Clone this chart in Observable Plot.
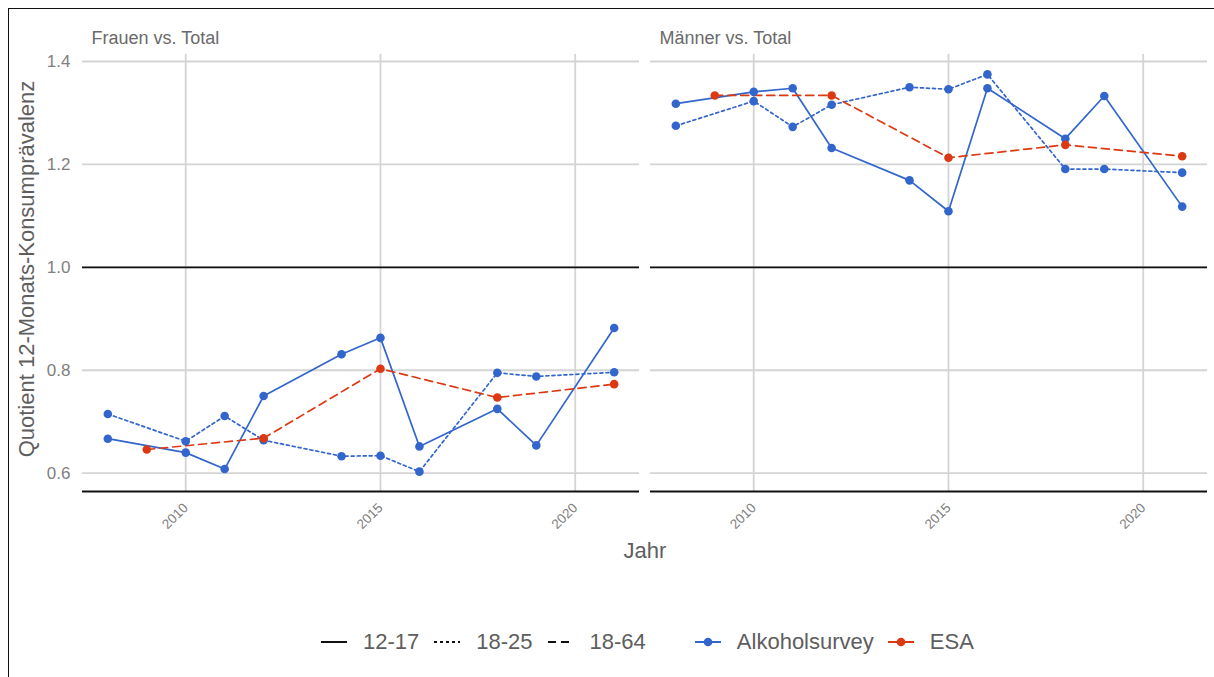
<!DOCTYPE html>
<html>
<head>
<meta charset="utf-8">
<script src="https://cdn.jsdelivr.net/npm/d3@7"></script>
<script src="https://cdn.jsdelivr.net/npm/@observablehq/plot@0.6"></script>
<style>
  html, body { margin: 0; padding: 0; background: #fff; }
  body { font-family: "Liberation Sans", Arial, sans-serif; }
  #wrap { position: relative; width: 1214px; height: 677px; overflow: hidden; }
  #frame { position: absolute; left: 8px; top: 8px; width: 1220px; height: 680px;
           border-left: 1.5px solid #111; border-top: 1.5px solid #111; pointer-events: none; }
  #chart { position: absolute; left: 0; top: 0; }
  .ytitle { position: absolute; left: 27px; top: 269px; transform: translate(-50%, -50%) rotate(-90deg);
            font-size: 22px; color: #5e5e5e; white-space: nowrap; line-height: 1; }
  .xtitle { position: absolute; left: 645px; top: 551px; transform: translate(-50%, -50%);
            font-size: 22px; color: #5e5e5e; line-height: 1; }
  #legend { position: absolute; left: 321px; top: 630px; height: 24px; display: flex; align-items: center;
            font-size: 22px; color: #5e5e5e; line-height: 1; white-space: nowrap; }
  #legend .item { display: flex; align-items: center; }
  #legend svg { display: block; }
</style>
</head>
<body>
<div id="wrap">
  <div id="chart"></div>
  <div class="ytitle">Quotient 12-Monats-Konsumprävalenz</div>
  <div class="xtitle">Jahr</div>
  <div id="legend"></div>
  <div id="frame"></div>
</div>
<script>
// ---- data ----
const panels = ["Frauen vs. Total", "Männer vs. Total"];
const yearsAlkoholsurvey = [2008, 2010, 2011, 2012, 2014, 2015, 2016, 2018, 2019, 2021];
const yearsESA = [2009, 2012, 2015, 2018, 2021];

const frauenAS_12_17 = [0.667, 0.640, 0.608, 0.750, 0.831, 0.863, 0.652, 0.725, 0.654, 0.882];
const frauenAS_18_25 = [0.715, 0.662, 0.711, 0.664, 0.633, 0.634, 0.603, 0.795, 0.788, 0.796];
const frauenESA_18_64 = [0.646, 0.668, 0.803, 0.747, 0.773];

const maennerAS_12_17 = [1.318, 1.341, 1.348, 1.232, 1.169, 1.109, 1.348, 1.250, 1.333, 1.118];
const maennerAS_18_25 = [1.275, 1.323, 1.273, 1.316, 1.350, 1.346, 1.375, 1.191, 1.191, 1.184];
const maennerESA_18_64 = [1.334, 1.334, 1.213, 1.238, 1.216];

const ageGroups = ["12-17", "18-25", "18-64"];
const sources = ["Alkoholsurvey", "ESA"];
const sourceColors = ["#3366CC", "#DC3912"];
const yTicks = [0.6, 0.8, 1.0, 1.2, 1.4];
const xTicks = [2010, 2015, 2020];

// ---- build table ----
function rows(panel, source, age, years, values) {
  return years.map((year, i) => ({panel, source, age, year, value: values[i], key: panel + source + age}));
}
const data = [
  ...rows(panels[0], sources[0], ageGroups[0], yearsAlkoholsurvey, frauenAS_12_17),
  ...rows(panels[0], sources[0], ageGroups[1], yearsAlkoholsurvey, frauenAS_18_25),
  ...rows(panels[0], sources[1], ageGroups[2], yearsESA, frauenESA_18_64),
  ...rows(panels[1], sources[0], ageGroups[0], yearsAlkoholsurvey, maennerAS_12_17),
  ...rows(panels[1], sources[0], ageGroups[1], yearsAlkoholsurvey, maennerAS_18_25),
  ...rows(panels[1], sources[1], ageGroups[2], yearsESA, maennerESA_18_64)
];

const dashes = {"12-17": null, "18-25": "3,3", "18-64": "8,5"};
const allValues = data.map(d => d.value).concat([1]);
const yMin = d3.min(allValues), yMax = d3.max(allValues);
const yPad = (yMax - yMin) * 0.05;
const yDomain = [yMin - yPad, yMax + yPad];
const xMin = d3.min(data, d => d.year), xMax = d3.max(data, d => d.year);
const xPad = (xMax - xMin) * 0.05;

const lineMarks = ageGroups.map(age =>
  Plot.line(data.filter(d => d.age === age), {
    fx: "panel", x: "year", y: "value", z: "key", stroke: "source",
    strokeWidth: 1.7, strokeDasharray: dashes[age]
  })
);

const plot = Plot.plot({
  width: 1214,
  height: 600,
  marginLeft: 82,
  marginRight: 7,
  marginTop: 54,
  marginBottom: 109,
  style: {fontFamily: "'Liberation Sans', Arial, sans-serif", color: "#808080", background: "transparent"},
  fx: {domain: panels, paddingInner: 0.0194, paddingOuter: 0, axis: null, label: null},
  x: {domain: [xMin - xPad, xMax + xPad]},
  y: {domain: yDomain},
  color: {domain: sources, range: sourceColors},
  marks: [
    Plot.gridY(yTicks, {stroke: "#d4d4d4", strokeOpacity: 1, strokeWidth: 1.8}),
    Plot.gridX(xTicks, {stroke: "#d4d4d4", strokeOpacity: 1, strokeWidth: 1.8}),
    Plot.ruleY([1], {stroke: "#111", strokeWidth: 1.7}),
    Plot.ruleY([yDomain[0]], {stroke: "#111", strokeWidth: 2.2}),
    Plot.axisY(yTicks, {tickSize: 0, tickPadding: 12, fontSize: 17, tickFormat: d => d.toFixed(1), label: null}),
    Plot.axisX(xTicks, {tickSize: 0, tickPadding: 14, fontSize: 13.5, tickRotate: -45, tickFormat: d => String(d), label: null}),
    ...lineMarks,
    Plot.dot(data.filter(d => d.source === sources[0]), {fx: "panel", x: "year", y: "value", fill: "source", r: 4.3}),
    Plot.dot(data.filter(d => d.source === sources[1]), {fx: "panel", x: "year", y: "value", fill: "source", r: 4.3}),
    Plot.text(panels.map(p => ({panel: p})), {
      fx: "panel", text: "panel", frameAnchor: "top-left", textAnchor: "start",
      dx: 9, dy: -23, fontSize: 18, fill: "#6a6a6a"
    })
  ]
});
document.getElementById("chart").appendChild(plot);

// ---- legend (HTML, below the chart) ----
const legend = document.getElementById("legend");
function sample(dash, color, withDot) {
  const ns = "http://www.w3.org/2000/svg";
  const svg = document.createElementNS(ns, "svg");
  svg.setAttribute("width", 26); svg.setAttribute("height", 20);
  const l = document.createElementNS(ns, "line");
  l.setAttribute("x1", 0); l.setAttribute("x2", 26); l.setAttribute("y1", 10); l.setAttribute("y2", 10);
  l.setAttribute("stroke", color); l.setAttribute("stroke-width", 2);
  if (dash) l.setAttribute("stroke-dasharray", dash);
  svg.appendChild(l);
  if (withDot) {
    const c = document.createElementNS(ns, "circle");
    c.setAttribute("cx", 13); c.setAttribute("cy", 10); c.setAttribute("r", 4.3); c.setAttribute("fill", color);
    svg.appendChild(c);
  }
  return svg;
}
function addItem(svg, label, gapAfter) {
  const item = document.createElement("div");
  item.className = "item";
  item.style.marginRight = gapAfter + "px";
  item.appendChild(svg);
  const t = document.createElement("span");
  t.textContent = label;
  t.style.marginLeft = "16px";
  item.appendChild(t);
  legend.appendChild(item);
}
addItem(sample(null, "#111", false), ageGroups[0], 15);
addItem(sample("3,3", "#111", false), ageGroups[1], 15);
addItem(sample("8,5", "#111", false), ageGroups[2], 49);
addItem(sample(null, sourceColors[0], true), sources[0], 14);
addItem(sample(null, sourceColors[1], true), sources[1], 0);
</script>
</body>
</html>
